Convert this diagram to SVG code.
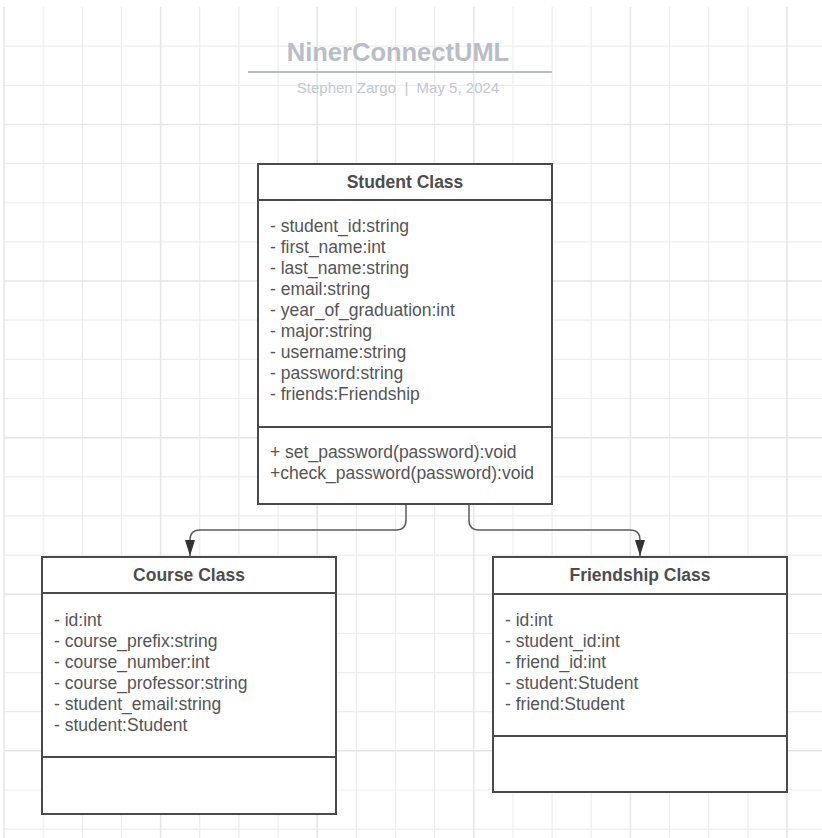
<svg xmlns="http://www.w3.org/2000/svg" width="822" height="838" viewBox="0 0 822 838">
<style>
.grid{stroke:#eeeeee;stroke-width:1.2;fill:none}
.gridm{stroke:#e6e6e6;stroke-width:1.5;fill:none}
.box{fill:#ffffff;stroke:#4a4a4a;stroke-width:2}
.div{stroke:#4a4a4a;stroke-width:2}
.hd{font-family:"Liberation Sans",Arial,sans-serif;font-size:17.5px;font-weight:bold;fill:#4d4d4d;text-anchor:middle}
.tx{font-family:"Liberation Sans",Arial,sans-serif;font-size:17.5px;fill:#555555}
.conn{fill:none;stroke:#5c5c5c;stroke-width:1.5}
</style>
<defs>
<marker id="arrow" viewBox="0 0 16 10" refX="16" refY="5" markerWidth="16" markerHeight="10" markerUnits="userSpaceOnUse" orient="auto">
<path d="M0 0L16 5L0 10z" fill="#333333"/>
</marker>
</defs>
<rect x="0" y="0" width="822" height="838" fill="#ffffff"/>
<g id="grid">
<path class="grid" d="M43.15 7V838M82.3 7V838M121.45 7V838M199.75 7V838M238.9 7V838M278.05 7V838M356.35 7V838M395.5 7V838M434.65 7V838M512.95 7V838M552.1 7V838M591.25 7V838M669.55 7V838M708.7 7V838M747.85 7V838M4 46.15H822M4 85.3H822M4 163.6H822M4 202.75H822M4 241.9H822M4 320.2H822M4 359.35H822M4 398.5H822M4 476.8H822M4 515.95H822M4 555.1H822M4 633.4H822M4 672.55H822M4 711.7H822M4 790H822M4 829.15H822"/>
<path class="gridm" d="M4 7V838M160.6 7V838M317.2 7V838M473.8 7V838M630.4 7V838M787 7V838M4 124.45H822M4 281.05H822M4 437.65H822M4 594.25H822M4 750.85H822"/>
</g>
<g id="title">
<text x="398" y="61" font-family="'Liberation Sans',Arial,sans-serif" font-size="25.5" font-weight="bold" fill="#b9bdc6" text-anchor="middle">NinerConnectUML</text>
<line x1="248" y1="72" x2="552" y2="72" stroke="#b7bcc5" stroke-width="2"/>
<text x="398" y="93" font-family="'Liberation Sans',Arial,sans-serif" font-size="15" fill="#c3c7cf" text-anchor="middle" xml:space="preserve">Stephen Zargo  |  May 5, 2024</text>
</g>
<g id="connectors">
<path class="conn" d="M406 504V520Q406 530 396 530H200Q190 530 190 540V556" marker-end="url(#arrow)"/>
<path class="conn" d="M469 504V520Q469 530 479 530H630Q640 530 640 540V556" marker-end="url(#arrow)"/>
</g>
<g id="student">
<rect class="box" x="258" y="164" width="294" height="340"/>
<line class="div" x1="258" y1="200" x2="552" y2="200"/>
<line class="div" x1="258" y1="427" x2="552" y2="427"/>
<text class="hd" x="405" y="188">Student Class</text>
<text class="tx" x="270" y="232">- student_id:string</text>
<text class="tx" x="270" y="253">- first_name:int</text>
<text class="tx" x="270" y="274">- last_name:string</text>
<text class="tx" x="270" y="295">- email:string</text>
<text class="tx" x="270" y="316">- year_of_graduation:int</text>
<text class="tx" x="270" y="337">- major:string</text>
<text class="tx" x="270" y="358">- username:string</text>
<text class="tx" x="270" y="379">- password:string</text>
<text class="tx" x="270" y="400">- friends:Friendship</text>
<text class="tx" x="270" y="458">+ set_password(password):void</text>
<text class="tx" x="270" y="479">+check_password(password):void</text>
</g>
<g id="course">
<rect class="box" x="42" y="557" width="294" height="257"/>
<line class="div" x1="42" y1="593" x2="336" y2="593"/>
<line class="div" x1="42" y1="757" x2="336" y2="757"/>
<text class="hd" x="189" y="581">Course Class</text>
<text class="tx" x="54" y="626">- id:int</text>
<text class="tx" x="54" y="647">- course_prefix:string</text>
<text class="tx" x="54" y="668">- course_number:int</text>
<text class="tx" x="54" y="689">- course_professor:string</text>
<text class="tx" x="54" y="710">- student_email:string</text>
<text class="tx" x="54" y="731">- student:Student</text>
</g>
<g id="friendship">
<rect class="box" x="493" y="557" width="294" height="235"/>
<line class="div" x1="493" y1="594" x2="787" y2="594"/>
<line class="div" x1="493" y1="736" x2="787" y2="736"/>
<text class="hd" x="640" y="581">Friendship Class</text>
<text class="tx" x="505" y="626">- id:int</text>
<text class="tx" x="505" y="647">- student_id:int</text>
<text class="tx" x="505" y="668">- friend_id:int</text>
<text class="tx" x="505" y="689">- student:Student</text>
<text class="tx" x="505" y="710">- friend:Student</text>
</g>
</svg>
